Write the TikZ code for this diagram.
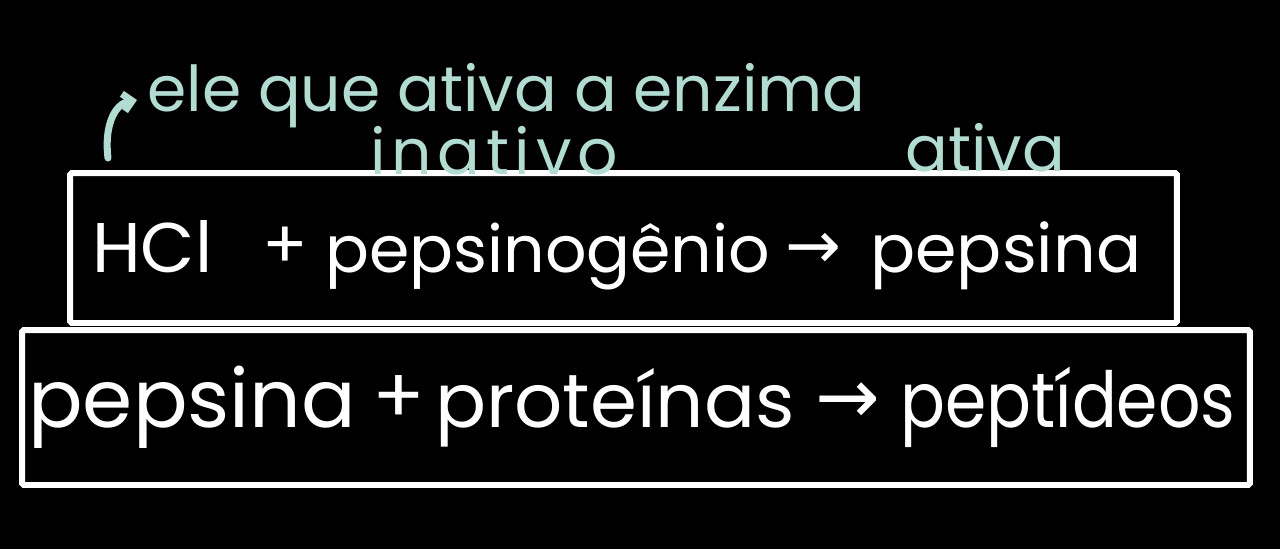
\documentclass[tikz,border=0pt]{standalone}
\usepackage{fontspec}
\setmainfont{Poppins}
\newfontfamily\arrowfont{DejaVu Sans}
\usetikzlibrary{positioning}
\usetikzlibrary{arrows.meta}
\definecolor{mint}{RGB}{178,219,209}

\begin{document}
\begin{tikzpicture}[x=0.02cm, y=-0.02cm,
  frame/.style={draw=white, line width=3.4pt, rounded corners=1pt, inner sep=0pt},
  word/.style={text=white, anchor=base west, inner sep=0pt, font=\fontsize{38}{46}\selectfont},
  bigword/.style={word, font=\fontsize{44}{52}\selectfont},
  note/.style={text=mint, anchor=base west, inner sep=0pt, font=\fontsize{36}{42}\selectfont}]
        % Background and page size
        \fill[black] (0,0) rectangle (1280,549);
        \useasboundingbox (0,0) rectangle (1280,549);

        % Draw the two boxes
        \node[frame, minimum width=22.14cm, minimum height=3cm] (topbox) at (623.5,248) {};
        \node[frame, minimum width=24.56cm, minimum height=3.1cm] (botbox) at (636,407.5) {};

        % First reaction
        \node[word, font=\fontsize{40}{48}\selectfont] (hcl) at (92,272) {HCl};
        \node[word] (plus1) at (262,268) {+};
        \node[word, font=\fontsize{37}{44}\selectfont] (pepsinogenio) at (325,272) {pepsinogênio};
        \node[word] (arr1) at (785,268) {\arrowfont →};
        \node[word] (pepsina1) at (870,272) {pepsina};

        % Second reaction
        \node[bigword, font=\fontsize{46}{54}\selectfont] (pepsina2) at (28,427) {pepsina};
        \node[bigword] (plus2) at (372,423) {+};
        \node[bigword, font=\fontsize{43}{50}\selectfont] (proteinas) at (435,427) {proteínas};
        \node[bigword] (arr2) at (815,423) {\arrowfont →};
        \node[bigword] (peptideos) at (900,427) {\scalebox{0.86}[1]{peptídeos}};

        % Notes above the first box
        \node[note] (ativador) at (147,111) {ele que ativa a enzima};
        \node[note] (inativo) at (370,174) {\addfontfeature{LetterSpace=9}inativo};
        \node[note] (ativa) at (905,171) {ativa};

        % Hooked arrow to the note
        \coordinate (hooktail) at (108,158);
        \coordinate (hooktip) at (137,100);
        \draw[mint, line width=4pt, line cap=round, -{Straight Barb[length=5pt, width=10pt]}]
          (hooktail) .. controls (104,125) and (115,104) .. (hooktip);
      \end{tikzpicture}
\end{document}
